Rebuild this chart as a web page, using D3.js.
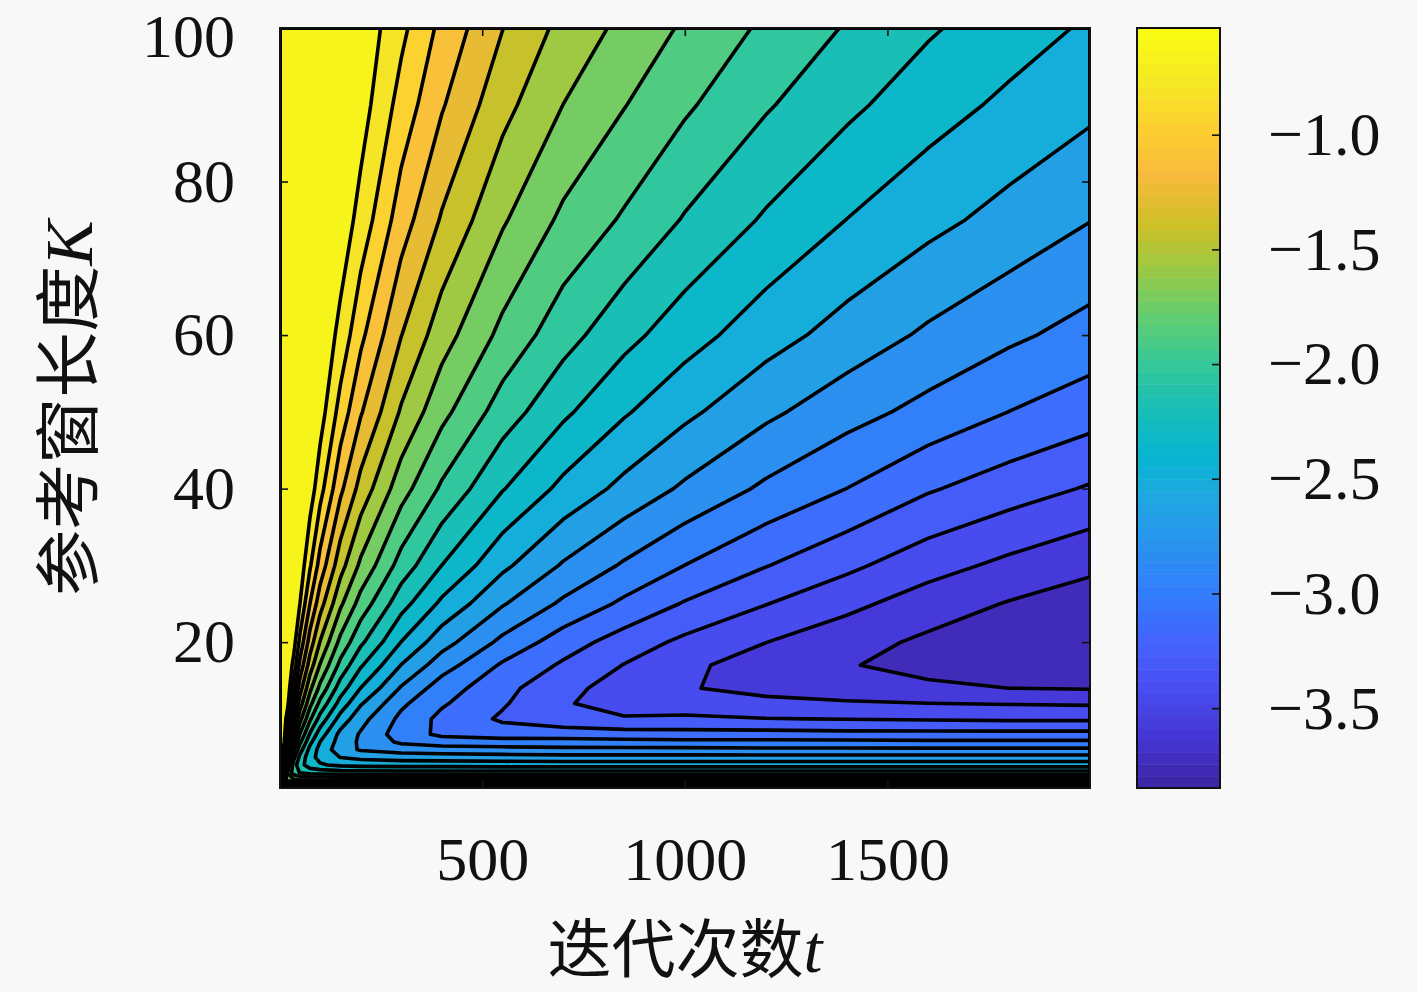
<!DOCTYPE html>
<html>
<head>
<meta charset="utf-8">
<script src="https://cdn.jsdelivr.net/npm/d3@7"></script>
<style>
    html, body { margin: 0; padding: 0; background: #f8f8f8; }
    svg { display: block; }
</style>
</head>
<body>
<svg id="chart" width="1417" height="992"></svg>
<script>
'use strict'

// iteration t : columns of the grid
const tValues = [1, 10, 20, 35, 50, 75, 100, 150, 200, 300, 400, 550, 700, 850, 1000, 1200, 1400, 1600, 1800, 2000]

// reference window length K : rows of the grid
const kValues = [1, 2, 3, 4, 5, 6, 7, 8, 10, 12, 14, 17, 20, 25, 30, 40, 50, 60, 75, 90, 100]

// log10 error, one row per K (same order as kValues), one column per t
const errGrid = [
    [-0.54, -0.54, -0.54, -0.54, -0.54, -0.54, -0.54, -0.54, -0.54, -0.54, -0.54, -0.54, -0.54, -0.54, -0.54, -0.54, -0.54, -0.54, -0.54, -0.54],
    [-0.54, -1.51, -1.70, -1.76, -1.78, -1.78, -1.79, -1.79, -1.79, -1.79, -1.79, -1.79, -1.79, -1.79, -1.79, -1.79, -1.79, -1.79, -1.79, -1.79],
    [-0.54, -1.36, -1.81, -2.03, -2.12, -2.17, -2.18, -2.20, -2.20, -2.21, -2.21, -2.21, -2.21, -2.21, -2.21, -2.21, -2.21, -2.21, -2.21, -2.21],
    [-0.54, -1.11, -1.66, -2.03, -2.21, -2.35, -2.41, -2.46, -2.48, -2.49, -2.49, -2.50, -2.50, -2.50, -2.50, -2.50, -2.50, -2.50, -2.50, -2.50],
    [-0.54, -0.90, -1.47, -1.91, -2.15, -2.37, -2.48, -2.59, -2.63, -2.66, -2.67, -2.68, -2.69, -2.69, -2.69, -2.69, -2.69, -2.69, -2.69, -2.69],
    [-0.54, -0.73, -1.30, -1.77, -2.04, -2.32, -2.48, -2.67, -2.76, -2.81, -2.83, -2.85, -2.86, -2.86, -2.86, -2.87, -2.87, -2.87, -2.87, -2.87],
    [-0.54, -0.62, -1.15, -1.63, -1.92, -2.23, -2.43, -2.65, -2.77, -2.93, -2.98, -2.99, -3.00, -3.01, -3.02, -3.02, -3.02, -3.03, -3.03, -3.03],
    [-0.54, -0.57, -1.02, -1.50, -1.80, -2.13, -2.35, -2.63, -2.76, -2.98, -3.09, -3.14, -3.13, -3.15, -3.16, -3.16, -3.17, -3.17, -3.17, -3.17],
    [-0.54, -0.55, -0.81, -1.28, -1.58, -1.93, -2.17, -2.49, -2.69, -2.94, -3.10, -3.24, -3.32, -3.36, -3.35, -3.37, -3.38, -3.39, -3.40, -3.40],
    [-0.54, -0.54, -0.65, -1.09, -1.40, -1.75, -2.00, -2.33, -2.57, -2.87, -3.04, -3.20, -3.36, -3.44, -3.45, -3.49, -3.51, -3.53, -3.54, -3.55],
    [-0.54, -0.54, -0.58, -0.94, -1.25, -1.60, -1.84, -2.19, -2.43, -2.76, -2.98, -3.17, -3.33, -3.44, -3.52, -3.58, -3.63, -3.66, -3.69, -3.70],
    [-0.54, -0.54, -0.55, -0.75, -1.05, -1.40, -1.65, -2.00, -2.25, -2.59, -2.83, -3.08, -3.24, -3.38, -3.50, -3.60, -3.68, -3.74, -3.78, -3.82],
    [-0.54, -0.54, -0.54, -0.63, -0.89, -1.24, -1.49, -1.84, -2.08, -2.43, -2.68, -2.94, -3.14, -3.29, -3.41, -3.53, -3.63, -3.72, -3.78, -3.84],
    [-0.54, -0.54, -0.54, -0.56, -0.69, -1.01, -1.26, -1.61, -1.86, -2.21, -2.46, -2.73, -2.93, -3.09, -3.23, -3.37, -3.49, -3.61, -3.70, -3.76],
    [-0.54, -0.54, -0.54, -0.54, -0.59, -0.83, -1.07, -1.42, -1.67, -2.02, -2.27, -2.55, -2.76, -2.92, -3.06, -3.21, -3.34, -3.47, -3.57, -3.66],
    [-0.54, -0.54, -0.54, -0.54, -0.54, -0.61, -0.79, -1.13, -1.38, -1.73, -1.98, -2.26, -2.47, -2.63, -2.77, -2.93, -3.06, -3.20, -3.30, -3.39],
    [-0.54, -0.54, -0.54, -0.54, -0.54, -0.55, -0.62, -0.91, -1.15, -1.50, -1.75, -2.03, -2.24, -2.41, -2.55, -2.71, -2.84, -2.95, -3.06, -3.15],
    [-0.54, -0.54, -0.54, -0.54, -0.54, -0.54, -0.56, -0.74, -0.97, -1.32, -1.57, -1.84, -2.05, -2.22, -2.36, -2.52, -2.65, -2.77, -2.87, -2.96],
    [-0.54, -0.54, -0.54, -0.54, -0.54, -0.54, -0.54, -0.59, -0.75, -1.09, -1.34, -1.62, -1.83, -1.975, -2.125, -2.29, -2.43, -2.54, -2.64, -2.74],
    [-0.54, -0.54, -0.54, -0.54, -0.54, -0.54, -0.54, -0.55, -0.62, -0.91, -1.15, -1.43, -1.64, -1.79, -1.93, -2.095, -2.235, -2.36, -2.46, -2.55],
    [-0.54, -0.54, -0.54, -0.54, -0.54, -0.54, -0.54, -0.55, -0.58, -0.81, -1.05, -1.32, -1.53, -1.68, -1.82, -1.985, -2.125, -2.25, -2.355, -2.45],
]

// contour levels (20 of them)
const levels = [
    -3.690, -3.532, -3.375, -3.217, -3.059, -2.901, -2.744, -2.586, -2.428, -2.270,
    -2.112, -1.955, -1.797, -1.639, -1.482, -1.324, -1.166, -1.008, -0.850, -0.693,
]

// colour axis limits
const zLimits = [-3.848, -0.535]

// tick values
const xTicks = [500, 1000, 1500]
const yTicks = [20, 40, 60, 80, 100]
const cbarTicks = [-1.0, -1.5, -2.0, -2.5, -3.0, -3.5]

// parula colormap stops
const parulaStops = ['#3e26a8', '#4537d5', '#484df0', '#4563fd', '#327cfc', '#2b91ef', '#20a5e3', '#08b5d0',
    '#19bfb6', '#37c897', '#64cd6f', '#9dc943', '#d1bf27', '#f8ba3d', '#fccf30', '#f5e924', '#f9fb15']

const serif = "'Liberation Serif', 'Times New Roman', serif"
const cjk = "'Noto Sans CJK SC', sans-serif"
const tickFont = 62

const svg = d3.select('#chart')

const plot = { left: 280, top: 28, right: 1090, bottom: 788 }
const bar = { left: 1137, right: 1220 }

const x = d3.scaleLinear().domain([1, 2000]).range([plot.left, plot.right])
const y = d3.scaleLinear().domain([1, 100]).range([plot.bottom, plot.top])

const parula = d3.scaleLinear()
    .domain(parulaStops.map((d, i) => i / (parulaStops.length - 1)))
    .range(parulaStops)
    .interpolate(d3.interpolateRgb)
const zNorm = d3.scaleLinear().domain(zLimits).range([0, 1])
const colour = (z) => parula(zNorm(z))

// grid index -> data value (grid is not evenly spaced)
const colToT = d3.scaleLinear().domain(d3.range(tValues.length)).range(tValues).clamp(true)
const rowToK = d3.scaleLinear().domain(d3.range(kValues.length)).range(kValues).clamp(true)

const toScreen = d3.geoTransform({
    point: function (px, py) {
        this.stream.point(x(colToT(px - 0.5)), y(rowToK(py - 0.5)))
    },
})
const path = d3.geoPath(toScreen)

const contours = d3
    .contours()
    .size([tValues.length, kValues.length])
    .thresholds(levels)(errGrid.flat())

svg.append('defs')
    .append('clipPath')
    .attr('id', 'plotClip')
    .append('rect')
    .attr('x', plot.left)
    .attr('y', plot.top)
    .attr('width', plot.right - plot.left)
    .attr('height', plot.bottom - plot.top)

const field = svg.append('g').attr('clip-path', 'url(#plotClip)')

// lowest band first, then each region above a level
field.append('rect')
    .attr('x', plot.left)
    .attr('y', plot.top)
    .attr('width', plot.right - plot.left)
    .attr('height', plot.bottom - plot.top)
    .attr('fill', colour((zLimits[0] + levels[0]) / 2))

field.selectAll('path.band')
    .data(contours)
    .enter()
    .append('path')
    .attr('class', 'band')
    .attr('d', path)
    .attr('fill', (d, i) => colour((d.value + (i + 1 < levels.length ? levels[i + 1] : zLimits[1])) / 2))
    .attr('fill-rule', 'evenodd')

field.selectAll('path.line')
    .data(contours)
    .enter()
    .append('path')
    .attr('class', 'line')
    .attr('d', path)
    .attr('fill', 'none')
    .attr('stroke', '#000')
    .attr('stroke-width', 3.6)
    .attr('stroke-linejoin', 'round')

// axes with inward ticks
const styleAxis = (g) => {
    g.select('.domain').remove()
    g.attr('font-family', serif).attr('font-size', tickFont).attr('color', '#111')
    g.selectAll('.tick line').attr('stroke-width', 1.6)
}

svg.append('g')
    .attr('transform', `translate(0,${plot.bottom})`)
    .call(d3.axisBottom(x).tickValues(xTicks).tickSize(-8).tickPadding(48).tickFormat(d3.format('d')))
    .call(styleAxis)

svg.append('g')
    .attr('transform', `translate(0,${plot.top})`)
    .call(d3.axisTop(x).tickValues(xTicks).tickSize(-8).tickFormat(''))
    .call(styleAxis)

const yAxis = svg.append('g')
    .attr('transform', `translate(${plot.left},0)`)
    .call(d3.axisLeft(y).tickValues(yTicks).tickSize(-8).tickPadding(45).tickFormat(d3.format('d')))
    .call(styleAxis)

// keep the top label inside the page
yAxis.selectAll('.tick text')
    .filter((d) => d === 100)
    .attr('dy', 28)

svg.append('g')
    .attr('transform', `translate(${plot.right},0)`)
    .call(d3.axisRight(y).tickValues(yTicks).tickSize(-8).tickFormat(''))
    .call(styleAxis)

svg.append('rect')
    .attr('x', plot.left)
    .attr('y', plot.top)
    .attr('width', plot.right - plot.left)
    .attr('height', plot.bottom - plot.top)
    .attr('fill', 'none')
    .attr('stroke', '#111')
    .attr('stroke-width', 2)

// colorbar
const cbarY = d3.scaleLinear().domain(zLimits).range([plot.bottom, plot.top])
const nColours = 64
const step = (zLimits[1] - zLimits[0]) / nColours

svg.append('g')
    .selectAll('rect')
    .data(d3.range(nColours))
    .enter()
    .append('rect')
    .attr('x', bar.left)
    .attr('width', bar.right - bar.left)
    .attr('y', (i) => cbarY(zLimits[0] + (i + 1) * step))
    .attr('height', (i) => cbarY(zLimits[0] + i * step) - cbarY(zLimits[0] + (i + 1) * step) + 0.5)
    .attr('fill', (i) => parula(i / (nColours - 1)))

svg.append('g')
    .attr('transform', `translate(${bar.right},0)`)
    .call(d3.axisRight(cbarY).tickValues(cbarTicks).tickSize(-8).tickPadding(48).tickFormat(d3.format('.1f')))
    .call(styleAxis)

svg.append('rect')
    .attr('x', bar.left)
    .attr('y', plot.top)
    .attr('width', bar.right - bar.left)
    .attr('height', plot.bottom - plot.top)
    .attr('fill', 'none')
    .attr('stroke', '#111')
    .attr('stroke-width', 2)

// axis titles
const xTitle = svg.append('text')
    .attr('x', (plot.left + plot.right) / 2)
    .attr('y', 972)
    .attr('text-anchor', 'middle')
    .attr('font-size', 64)
    .attr('fill', '#111')
xTitle.append('tspan').attr('font-family', cjk).text('迭代次数')
xTitle.append('tspan').attr('font-family', serif).attr('font-style', 'italic').attr('font-size', 68).text('t')

const yTitle = svg.append('text')
    .attr('transform', `translate(92,${(plot.top + plot.bottom) / 2}) rotate(-90)`)
    .attr('text-anchor', 'middle')
    .attr('font-size', 66)
    .attr('fill', '#111')
yTitle.append('tspan').attr('font-family', cjk).text('参考窗长度')
yTitle.append('tspan').attr('font-family', serif).attr('font-style', 'italic').attr('font-size', 68).text('K')
</script>
</body>
</html>
